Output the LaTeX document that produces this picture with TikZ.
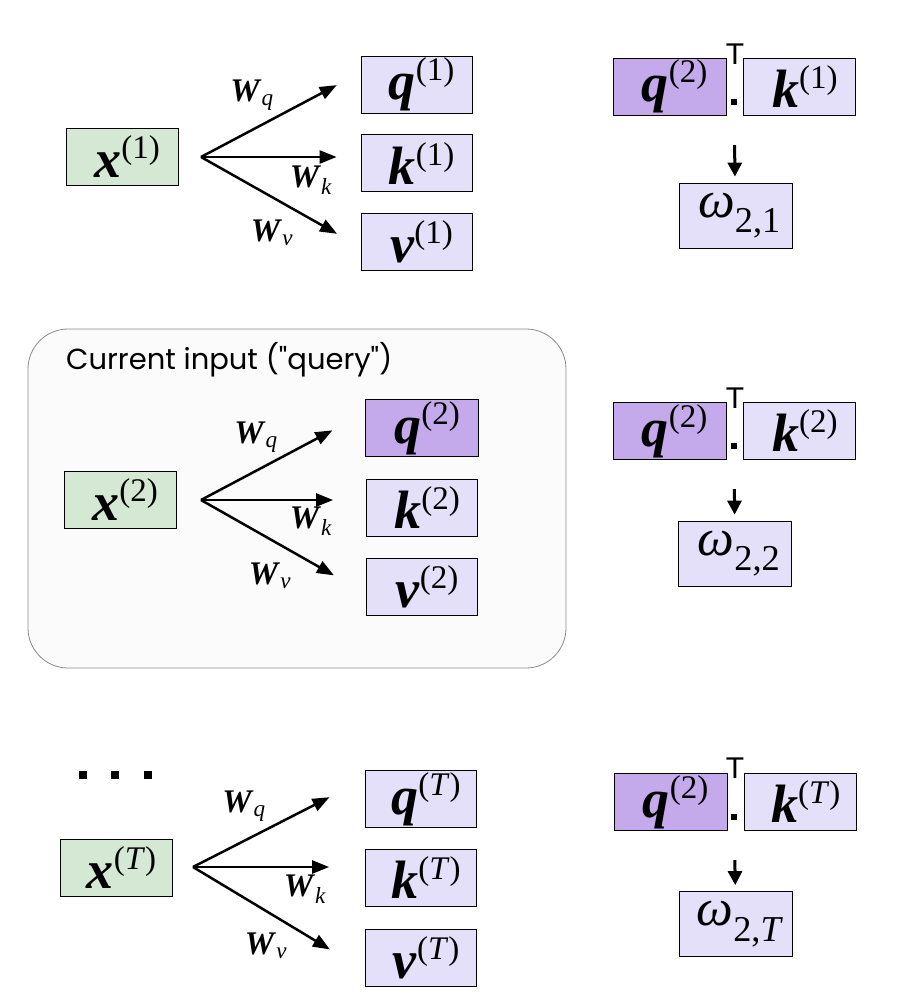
\documentclass[tikz,border=0pt]{standalone}
\usepackage{fontspec}
\setmainfont{Liberation Serif}
\newfontfamily\titlefont{Poppins}
\newfontfamily\trfont{Liberation Sans}
\usetikzlibrary{arrows.meta,positioning}

\definecolor{xgreen}{HTML}{D5E8D4}
\definecolor{vlilac}{HTML}{E4E0FA}
\definecolor{qlilac}{HTML}{C5AAEB}
\definecolor{panelfill}{HTML}{FBFBFB}
\definecolor{panelline}{HTML}{8A8A8A}

\newcommand{\bvec}[2]{\hspace*{10pt}\textbf{\textit{#1}}%
  \raisebox{19pt}{\fontsize{33}{33}\selectfont(#2)}}
\newcommand{\wmat}[1]{\textbf{\textit{W}}\textsubscript{\textit{#1}}}
\newcommand{\omg}[1]{\hspace*{8pt}\textit{ω}\textsubscript{#1}}

\tikzset{
  vec/.style={draw, line width=0.8pt, fill=vlilac, minimum width=111pt,
    minimum height=57pt, inner sep=0pt, font=\fontsize{54}{56}\selectfont},
  inp/.style={vec, fill=xgreen, minimum width=112pt},
  qry/.style={vec, fill=qlilac, minimum width=113pt},
  kcol/.style={vec, minimum width=112pt},
  wgt/.style={vec, minimum width=113pt, minimum height=65pt,
    font=\fontsize{52}{54}\selectfont},
  wlab/.style={inner sep=0pt, font=\fontsize{33}{35}\selectfont},
  trans/.style={inner sep=0pt, font=\trfont\fontsize{30}{30}\selectfont},
  dotsq/.style={fill, minimum size=6pt, inner sep=0pt},
  proj/.style={-{Triangle[length=17pt,width=13pt]}, line width=2.5pt},
  down/.style={-{Triangle[length=14pt,width=14pt]}, line width=3pt,
    shorten <=40pt, shorten >=6pt}
}

\begin{document}
\begin{tikzpicture}[x=1pt,y=-1pt]
   \useasboundingbox (0,0) rectangle (908,1004);

   % first input
   \node[inp] (x_1) at (122,157) {\bvec{x}{1}};
   \node[vec] (q_1) at (416.5,84.5) {\bvec{q}{1}};
   \node[vec] (k_1) [below=21pt of q_1] {\bvec{k}{1}};
   \node[vec] (v_1) [below=21pt of k_1] {\bvec{v}{1}};
   \coordinate (o_1) at (201,157);
   \draw[proj, shorten >=27pt] (o_1) -- ([yshift=12pt]q_1.west);
   \draw[proj, shorten >=24pt] (o_1) -- (o_1 -| k_1.west);
   \draw[proj, shorten >=27pt] (o_1) -- ([yshift=-5pt]v_1.west);
   \node[wlab] (wq_1) at (252,95) {\wmat{q}};
   \node[wlab] (wk_1) at (311,180) {\wmat{k}};
   \node[wlab] (wv_1) at (272,233) {\wmat{v}};

   % current input
   \draw[panelline, fill=panelfill, rounded corners=40pt, line width=0.8pt]
     (28,329) rectangle (566,668);
   \node[anchor=base west, inner sep=0pt, font=\titlefont\fontsize{29}{31}\selectfont]
     (title) at (66,369) {Current input ("query")};
   \node[inp] (x_2) at (120,500) {\bvec{x}{2}};
   \node[qry] (q_2) at (422,428) {\bvec{q}{2}};
   \node[vec] (k_2) [below=22pt of q_2] {\bvec{k}{2}};
   \node[vec] (v_2) [below=21pt of k_2] {\bvec{v}{2}};
   \coordinate (o_2) at (201,500);
   \draw[proj, shorten >=37pt] (o_2) -- ([yshift=15pt]q_2.west);
   \draw[proj, shorten >=33pt] (o_2) -- (o_2 -| k_2.west);
   \draw[proj, shorten >=37pt] (o_2) -- ([yshift=-7pt]v_2.west);
   \node[wlab] (wq_2) at (256,437) {\wmat{q}};
   \node[wlab] (wk_2) at (311,521) {\wmat{k}};
   \node[wlab] (wv_2) at (270,576) {\wmat{v}};

   % last input
   \node[dotsq, minimum size=8pt] (d_1) at (83,775) {};
   \node[dotsq, minimum size=8pt] (d_2) at (115,775) {};
   \node[dotsq, minimum size=8pt] (d_3) at (148,775) {};
   \node[inp] (x_T) at (116.5,867.5) {\bvec{x}{\textit{T}}};
   \node[vec] (q_T) at (421,799) {\bvec{q}{\textit{T}}};
   \node[vec] (k_T) [below=21pt of q_T] {\bvec{k}{\textit{T}}};
   \node[vec] (v_T) [below=22pt of k_T] {\bvec{v}{\textit{T}}};
   \coordinate (o_T) at (193,867);
   \draw[proj, shorten >=40pt] (o_T) -- ([yshift=20pt]q_T.west);
   \draw[proj, shorten >=36pt] (o_T) -- (o_T -| k_T.west);
   \draw[proj, shorten >=41pt] (o_T) -- ([yshift=-13pt]v_T.west);
   \node[wlab] (wq_T) at (244,806) {\wmat{q}};
   \node[wlab] (wk_T) at (305,889) {\wmat{k}};
   \node[wlab] (wv_T) at (266,946) {\wmat{v}};

   % attention weights
   \node[qry] (qq_1) at (669.5,86.5) {\bvec{q}{2}};
   \node[kcol] (kk_1) [right=17pt of qq_1] {\bvec{k}{1}};
   \node[trans] (t_1) at (735,54) {T};
   \node[dotsq] (p_1) at (734,102) {};
   \node[wgt] (w_1) at (735.5,215.5) {\omg{2,1}};
   \draw[down] (p_1) -- (w_1);

   \node[qry] (qq_2) at (669.5,431) {\bvec{q}{2}};
   \node[kcol] (kk_2) [right=17pt of qq_2] {\bvec{k}{2}};
   \node[trans] (t_2) at (735,398) {T};
   \node[dotsq] (p_2) at (734,446) {};
   \node[wgt] (w_2) at (735,553.5) {\omg{2,2}};
   \draw[down] (p_2) -- (w_2);

   \node[qry] (qq_T) at (670.5,802) {\bvec{q}{2}};
   \node[kcol] (kk_T) [right=17pt of qq_T] {\bvec{k}{\textit{T}}};
   \node[trans] (t_T) at (735,768) {T};
   \node[dotsq] (p_T) at (734,817) {};
   \node[wgt] (w_T) at (736,924) {\omg{2,\textit{T}}};
   \draw[down] (p_T) -- (w_T);
\end{tikzpicture}
\end{document}
